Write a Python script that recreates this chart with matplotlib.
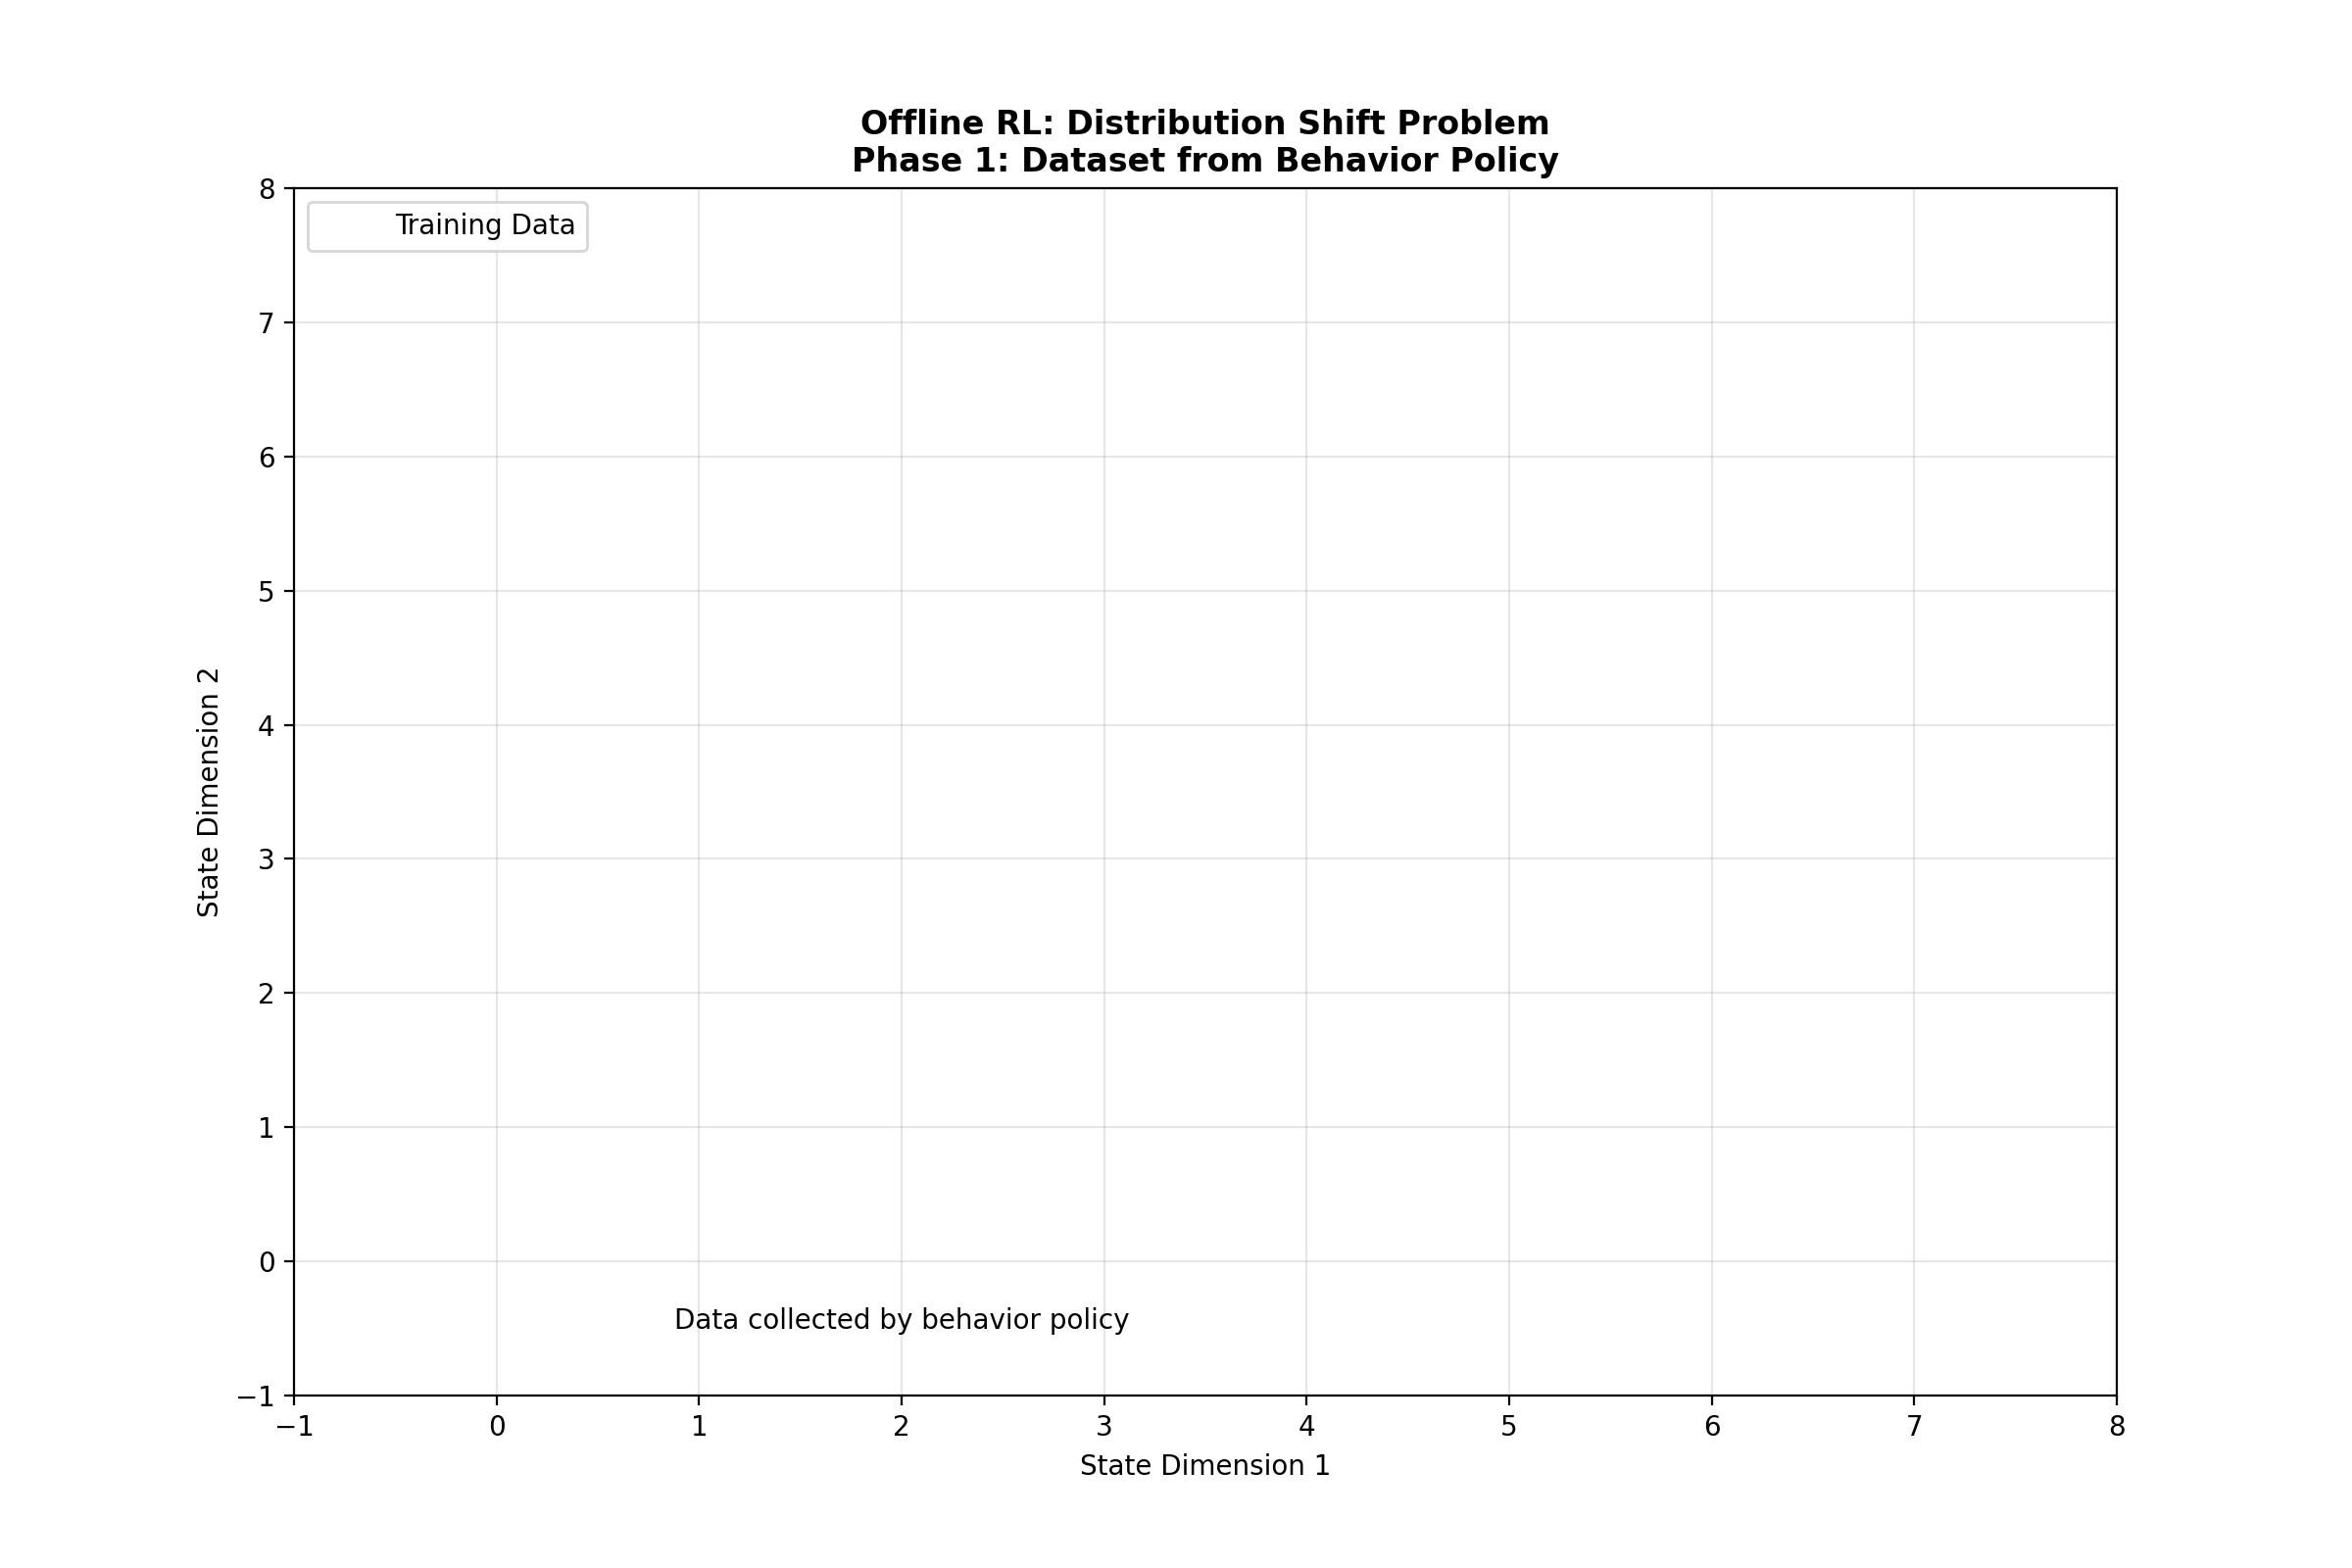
"""
Offline RL distribution shift, phase 1: empty dataset frame.
"""

import matplotlib
matplotlib.use("Agg")
import matplotlib.pyplot as plt

# Data (dataset not yet drawn in this phase)
train_x = []
train_y = []
x_limits = [-1, 8]
y_limits = [-1, 8]
note_pos = (2, -0.5)


def main():
    fig, ax = plt.subplots(figsize=(12, 8), dpi=200)

    # empty scatter: the legend entry has no visible marker
    ax.scatter(train_x, train_y, c=train_x, alpha=0.6, s=50, label='Training Data')

    ax.set_xlim(*x_limits)
    ax.set_ylim(*y_limits)
    ax.set_xlabel('State Dimension 1')
    ax.set_ylabel('State Dimension 2')
    ax.set_title('Offline RL: Distribution Shift Problem\nPhase 1: Dataset from Behavior Policy',
                 fontweight='bold')
    ax.grid(True, alpha=0.3)
    ax.legend(loc='upper left')
    ax.text(note_pos[0], note_pos[1], 'Data collected by behavior policy', ha='center')

    fig.savefig('out.png', dpi=200)


if __name__ == "__main__":
    main()
